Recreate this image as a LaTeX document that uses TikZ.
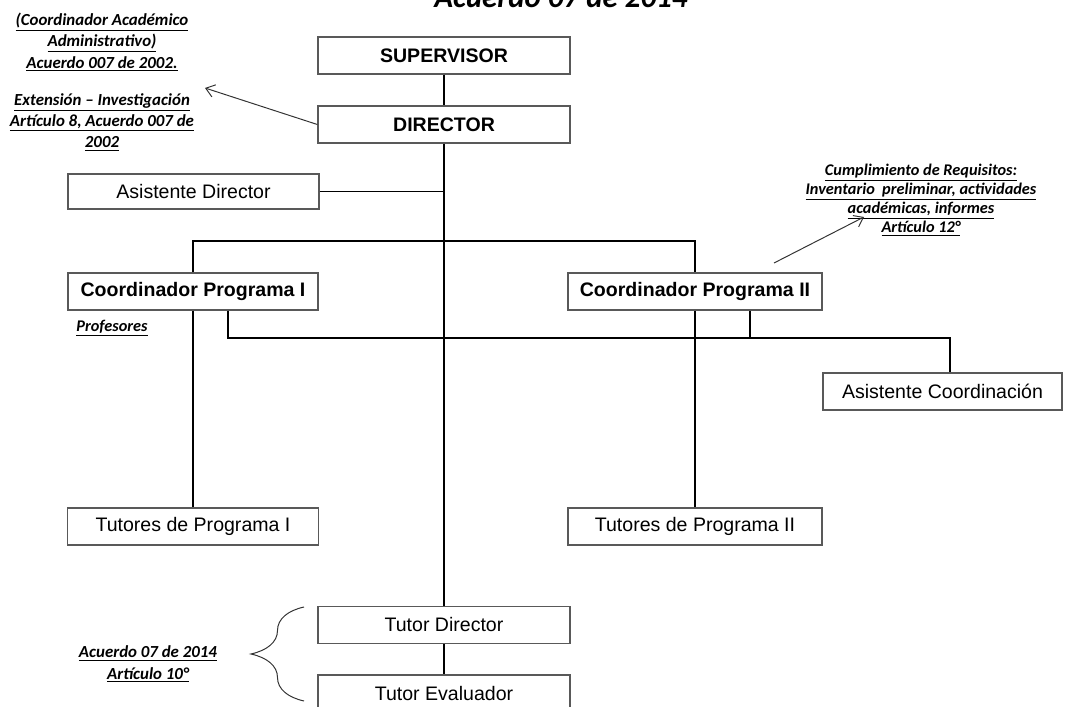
\documentclass[tikz,border=0pt]{standalone}
\usepackage{fontspec}
\setmainfont{Liberation Sans}
\newfontfamily\calibri{Carlito}
\usetikzlibrary{calc,arrows.meta,decorations.pathreplacing}

\tikzset{
cargo/.style={draw=black!65,line width=0.9pt,fill=white,inner sep=0pt,
  minimum width=6.3cm,minimum height=0.925cm,font=\fontsize{13.9}{16}\selectfont},
jefe/.style={cargo,font=\fontsize{13.9}{16}\selectfont\bfseries},
linea/.style={line width=1.3pt},
flecha/.style={-{Straight Barb[length=6pt,width=9pt]},line width=0.7pt,black!80},
nota/.style={align=center,inner sep=0pt,font=\calibri\bfseries\itshape\fontsize{11.6}{13.5}\selectfont},
notaizq/.style={nota,font=\calibri\bfseries\itshape\fontsize{12}{15.2}\selectfont}
}

\begin{document}
\begin{tikzpicture}[x=0.025cm,y=-0.025cm]
\useasboundingbox (0,0) rectangle (1066,707);

% titulo (cortado arriba)
\node[anchor=base,inner sep=0pt,font=\calibri\bfseries\itshape\fontsize{22}{26}\selectfont] (titulo) at (561,8) {Acuerdo 07 de 2014};

% cargos
\node[jefe] (sup) at (444,55.5) {SUPERVISOR};
\node[jefe] (dir) at (444,124.5) {DIRECTOR};
\node[cargo,minimum width=6.275cm,minimum height=0.875cm] (asdir) at (193.5,191.5) {Asistente Director};
\node[jefe,minimum width=6.25cm] (coordI) at (193,291.5) {Coordinador Programa I};
\node[jefe,minimum width=6.35cm] (coordII) at (695,291.5) {Coordinador Programa II};
\node[cargo,minimum width=5.975cm] (ascoord) at (942.5,391.5) {Asistente Coordinación};
\node[cargo,minimum width=6.275cm] (tutI) at (193,526.5) {Tutores de Programa I};
\node[cargo,minimum width=6.35cm] (tutII) at (695,526.5) {Tutores de Programa II};
\node[cargo] (tdir) at (444,625) {Tutor Director};
\node[cargo] (teval) at (444,693.5) {Tutor Evaluador};

% lineas
\coordinate (ramaA) at (444,241);
\coordinate (ramaB) at (950,338);
\coordinate (stubI) at ($(coordI.south)+(35,0)$);
\coordinate (stubII) at ($(coordII.south)+(55,0)$);
\draw[linea] (sup) -- (dir);
\draw[linea] (dir) -- (tdir);
\draw[linea] (tdir) -- (teval);
\draw[linea] (asdir.east) -- (asdir.east -| dir.south);
\draw[linea] (coordI.north) |- (ramaA) -| (coordII.north);
\draw[linea] (coordI) -- (tutI);
\draw[linea] (coordII) -- (tutII);
\draw[linea] (stubI) |- (ramaB) -- (ramaB |- ascoord.north);
\draw[linea] (stubII) -- (stubII |- ramaB);

% notas
\node[notaizq] (coordacad) at (102,42) {\underline{(Coordinador Académico}\\\underline{Administrativo)}\\\underline{Acuerdo 007 de 2002.}};
\node[notaizq] (extinv) at (102,122) {\underline{Extensión – Investigación}\\\underline{Artículo 8, Acuerdo 007 de}\\\underline{2002}};
\node[nota] (requisitos) at (921,200) {\underline{Cumplimiento de Requisitos:}\\\underline{Inventario\ \ preliminar, actividades}\\\underline{académicas, informes}\\\underline{Artículo 12°}};
\node[nota] (profes) at (112,328) {\underline{Profesores}};
\node[notaizq] (art10) at (148,664) {\underline{Acuerdo 07 de 2014}\\\underline{Artículo 10°}};

% flechas
\coordinate (flechaA) at (205,88);
\coordinate (flechaB0) at (774,263);
\coordinate (flechaB) at (864,217);
\draw[flecha] (dir.west) -- (flechaA);
\draw[flecha] (flechaB0) -- (flechaB);

% llave
\draw[line width=0.7pt,black!80,decorate,decoration={brace,amplitude=1.325cm}] (304,701) -- (304,607);
\end{tikzpicture}
\end{document}
